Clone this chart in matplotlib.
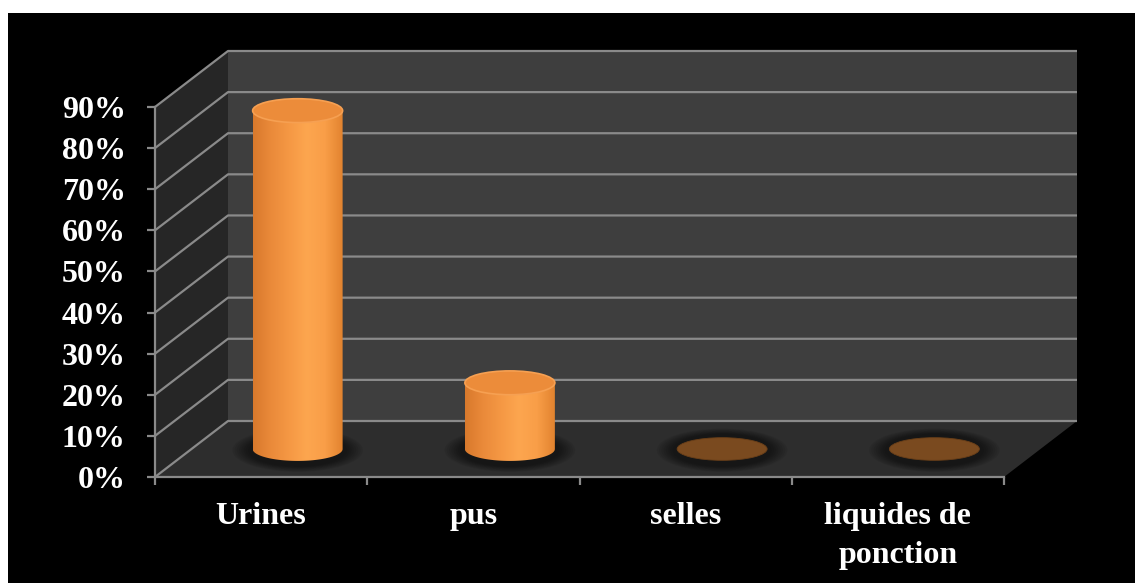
import numpy as np
import matplotlib
matplotlib.use("Agg")
import matplotlib.pyplot as plt
from matplotlib.patches import Polygon, Ellipse, PathPatch, Rectangle
from matplotlib.path import Path
from matplotlib.colors import LinearSegmentedColormap

categories = ["Urines", "pus", "selles", "liquides de\nponction"]
values = [82.3, 16.1, 0, 0]
yticks = [0, 10, 20, 30, 40, 50, 60, 70, 80, 90]
ytick_labels = ["%d%%" % t for t in yticks]

W, H, DPI = 1135, 583, 100
fig = plt.figure(figsize=(W / DPI, H / DPI), dpi=DPI, facecolor="white")
fig.add_artist(Rectangle((8 / W, 0), 1, (H - 13) / H, transform=fig.transFigure,
                         facecolor="black", edgecolor="none", zorder=-10))

ax = fig.add_axes([155 / W, (H - 477) / H, 849 / W, 370 / H])
ax.patch.set_visible(False)
n = len(categories)
ymax = 90

# oblique depth offset in data units (73 px right, 56 px up)
DX = 73 / (849 / n)
DY = 56 / (370 / ymax)

grid_c = "#8a8a8a"
side = Polygon([(0, 0), (0, ymax), (DX, ymax + DY), (DX, DY)], closed=True,
               facecolor="#262626", edgecolor="none", clip_on=False, zorder=0)
back = Polygon([(DX, DY), (n + DX, DY), (n + DX, ymax + DY), (DX, ymax + DY)],
               closed=True, facecolor="#3e3e3e", edgecolor="none", clip_on=False, zorder=0)
floor = Polygon([(0, 0), (n, 0), (n + DX, DY), (DX, DY)], closed=True,
                facecolor="#2d2d2d", edgecolor="none", clip_on=False, zorder=0.5)
for p in (side, back, floor):
    ax.add_patch(p)

for t in yticks:
    ax.plot([0, DX, n + DX], [t, t + DY, t + DY], color=grid_c, lw=1.6,
            clip_on=False, zorder=0.8, solid_capstyle="butt")

# cylinders
cmap = LinearSegmentedColormap.from_list(
    "cyl", ["#d8792c", "#ea8a3a", "#f59844", "#fda64f", "#f99e48", "#e2832f"])
rx = 0.212
ry = 2.9
for i, v in enumerate(values):
    cx = i + 0.5 + 0.5 * DX
    cy = 0.5 * DY
    # soft shadow
    for k in range(8):
        s = 1.45 - 0.05 * k
        ax.add_patch(Ellipse((cx, cy - 0.3), 2 * rx * s, 2 * ry * s * 1.25,
                             facecolor="black", edgecolor="none", alpha=0.07,
                             clip_on=False, zorder=1))
    if v <= 0.5:
        ax.add_patch(Ellipse((cx, cy), 2 * rx, 2 * ry * 0.95, facecolor="#7a4a1f",
                             edgecolor="#6a3f18", lw=0.6, clip_on=False, zorder=2))
        continue
    th = np.linspace(np.pi, 2 * np.pi, 60)
    pts = [(cx + rx * np.cos(a), cy + ry * np.sin(a)) for a in th]
    pts += [(cx + rx, cy + v), (cx - rx, cy + v), (cx - rx, cy)]
    body = PathPatch(Path(pts), facecolor="none", edgecolor="none", clip_on=False)
    ax.add_patch(body)
    grad = np.linspace(0, 1, 256).reshape(1, -1)
    im = ax.imshow(grad, cmap=cmap, aspect="auto", interpolation="bilinear",
                   extent=[cx - rx, cx + rx, cy - ry, cy + v], zorder=2)
    im.set_clip_path(body)
    im.set_clip_box(None)
    ax.add_patch(Ellipse((cx, cy + v), 2 * rx, 2 * ry, facecolor="#ec8c3a",
                         edgecolor="#f6a052", lw=1.2, clip_on=False, zorder=3))

ax.set_xlim(0, n)
ax.set_ylim(0, ymax)

for s in ("top", "right"):
    ax.spines[s].set_visible(False)
for s in ("left", "bottom"):
    ax.spines[s].set_color(grid_c)
    ax.spines[s].set_linewidth(1.6)
    ax.spines[s].set_zorder(4)

font = dict(family=["Liberation Serif", "DejaVu Serif"], weight="bold", size=23)
ax.set_yticks(yticks)
ax.set_yticklabels(ytick_labels, color="white", **font)
ax.tick_params(axis="y", direction="out", length=6, width=1.6, color=grid_c, pad=15)
ax.set_xticks(range(n + 1))
ax.set_xticklabels([""] * (n + 1))
ax.tick_params(axis="x", which="major", direction="out", length=6, width=1.6, color=grid_c)
ax.set_xticks([i + 0.5 for i in range(n)], minor=True)
ax.set_xticklabels(categories, minor=True, color="white", linespacing=1.45, **font)
ax.tick_params(axis="x", which="minor", length=0, pad=18)

fig.savefig("out.png", dpi=DPI, facecolor="white")
